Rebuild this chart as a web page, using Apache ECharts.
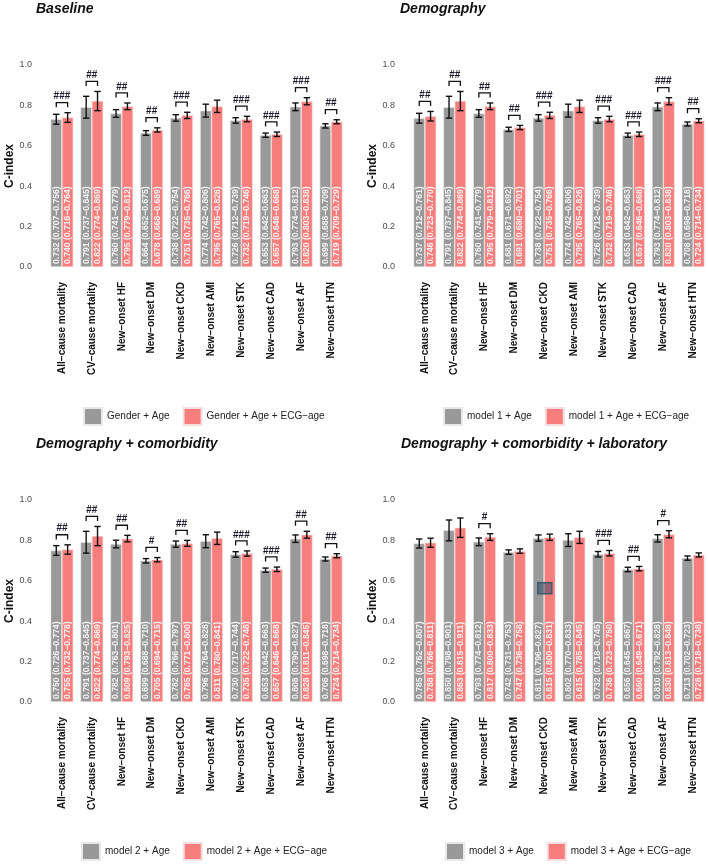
<!DOCTYPE html>
<html><head><meta charset="utf-8">
<script src="https://cdn.jsdelivr.net/npm/echarts@6/dist/echarts.min.js"></script>
<style>html,body{margin:0;padding:0;background:#fff}#c{width:708px;height:865px}</style>
</head><body><div id="c"></div>
<script>
const categories = ['All\u2212cause mortality','CV\u2212cause mortality','New\u2212onset HF','New\u2212onset DM','New\u2212onset CKD','New\u2212onset AMI','New\u2212onset STK','New\u2212onset CAD','New\u2212onset AF','New\u2212onset HTN'];
const yTicks = [0, 0.2, 0.4, 0.6, 0.8, 1.0];

// Panel 1 — Baseline
const p1Title = 'Baseline';
const p1Names = ['Gender + Age', 'Gender + Age + ECG\u2212age'];
const p1BaseVal = [0.732,0.791,0.760,0.664,0.738,0.774,0.726,0.653,0.793,0.699];
const p1BaseLo  = [0.707,0.737,0.741,0.652,0.722,0.742,0.712,0.642,0.774,0.688];
const p1BaseHi  = [0.756,0.845,0.779,0.675,0.754,0.806,0.739,0.663,0.812,0.709];
const p1EcgVal  = [0.740,0.822,0.795,0.678,0.751,0.795,0.732,0.657,0.820,0.719];
const p1EcgLo   = [0.716,0.774,0.779,0.668,0.735,0.765,0.719,0.646,0.803,0.709];
const p1EcgHi   = [0.764,0.869,0.812,0.689,0.766,0.826,0.746,0.668,0.838,0.729];
const p1Marks   = ['###','##','##','##','###','','###','###','###','##'];

// Panel 2 — Demography
const p2Title = 'Demography';
const p2Names = ['model 1 + Age', 'model 1 + Age + ECG\u2212age'];
const p2BaseVal = [0.737,0.791,0.760,0.681,0.738,0.774,0.726,0.653,0.793,0.708];
const p2BaseLo  = [0.712,0.737,0.741,0.671,0.722,0.742,0.712,0.642,0.774,0.698];
const p2BaseHi  = [0.761,0.845,0.779,0.692,0.754,0.806,0.739,0.663,0.812,0.718];
const p2EcgVal  = [0.746,0.822,0.795,0.691,0.751,0.795,0.732,0.657,0.820,0.724];
const p2EcgLo   = [0.723,0.774,0.779,0.680,0.735,0.765,0.719,0.646,0.803,0.714];
const p2EcgHi   = [0.770,0.869,0.812,0.701,0.766,0.826,0.746,0.668,0.838,0.734];
const p2Marks   = ['##','##','##','##','###','','###','###','###','##'];

// Panel 3 — Demography + comorbidity
const p3Title = 'Demography + comorbidity';
const p3Names = ['model 2 + Age', 'model 2 + Age + ECG\u2212age'];
const p3BaseVal = [0.750,0.791,0.782,0.699,0.782,0.796,0.730,0.653,0.808,0.708];
const p3BaseLo  = [0.726,0.737,0.763,0.688,0.766,0.764,0.717,0.642,0.790,0.698];
const p3BaseHi  = [0.774,0.845,0.801,0.710,0.797,0.828,0.744,0.663,0.827,0.718];
const p3EcgVal  = [0.755,0.822,0.809,0.705,0.785,0.811,0.735,0.657,0.828,0.724];
const p3EcgLo   = [0.732,0.774,0.793,0.694,0.771,0.780,0.722,0.646,0.811,0.714];
const p3EcgHi   = [0.778,0.869,0.825,0.715,0.800,0.841,0.748,0.668,0.845,0.734];
const p3Marks   = ['##','##','##','#','##','','###','###','##','##'];

// Panel 4 — Demography + comorbidity + laboratory
const p4Title = 'Demography + comorbidity + laboratory';
const p4Names = ['model 3 + Age', 'model 3 + Age + ECG\u2212age'];
const p4BaseVal = [0.785,0.850,0.793,0.742,0.811,0.802,0.732,0.656,0.810,0.713];
const p4BaseLo  = [0.762,0.798,0.774,0.731,0.796,0.770,0.718,0.645,0.792,0.702];
const p4BaseHi  = [0.807,0.901,0.812,0.753,0.827,0.833,0.745,0.667,0.828,0.723];
const p4EcgVal  = [0.788,0.863,0.817,0.747,0.815,0.815,0.736,0.660,0.830,0.728];
const p4EcgLo   = [0.766,0.815,0.800,0.736,0.800,0.785,0.723,0.649,0.813,0.718];
const p4EcgHi   = [0.811,0.911,0.833,0.758,0.831,0.845,0.750,0.671,0.848,0.738];
const p4Marks   = ['','','#','','','','###','##','#',''];

const panels = [
  {title:p1Title, names:p1Names, bv:p1BaseVal, bl:p1BaseLo, bh:p1BaseHi, ev:p1EcgVal, el:p1EcgLo, eh:p1EcgHi, marks:p1Marks},
  {title:p2Title, names:p2Names, bv:p2BaseVal, bl:p2BaseLo, bh:p2BaseHi, ev:p2EcgVal, el:p2EcgLo, eh:p2EcgHi, marks:p2Marks},
  {title:p3Title, names:p3Names, bv:p3BaseVal, bl:p3BaseLo, bh:p3BaseHi, ev:p3EcgVal, el:p3EcgLo, eh:p3EcgHi, marks:p3Marks},
  {title:p4Title, names:p4Names, bv:p4BaseVal, bl:p4BaseLo, bh:p4BaseHi, ev:p4EcgVal, el:p4EcgLo, eh:p4EcgHi, marks:p4Marks}
];

const GRAY = '#999999', SALMON = '#f87e7e';
const FONT = '"Liberation Sans", Arial, sans-serif';
const layout = [
  {left:47, top:65, titleLeft:36, titleTop:2, legLeft:83, legTop:407},
  {left:410, top:65, titleLeft:400, titleTop:2, legLeft:443, legTop:407},
  {left:47, top:500, titleLeft:36, titleTop:437, legLeft:81, legTop:842},
  {left:410, top:500, titleLeft:401, titleTop:437, legLeft:445, legTop:842}
];
const GW = 299, GH = 202;
const BAR_FRAC = 0.38;

function fmt(v){ return v.toFixed(3); }

function renderErr(params, api){
  const i = api.value(0), lo = api.value(1), hi = api.value(2), side = api.value(3);
  const band = api.size([1, 0])[0];
  const bw = band * BAR_FRAC;
  const pl = api.coord([i, lo]), ph = api.coord([i, hi]);
  const x = pl[0] + side * bw / 2;
  const cap = 3.2;
  const st = {stroke:'#111', lineWidth:1.4};
  return {type:'group', children:[
    {type:'line', shape:{x1:x, y1:pl[1], x2:x, y2:ph[1]}, style:st},
    {type:'line', shape:{x1:x-cap, y1:pl[1], x2:x+cap, y2:pl[1]}, style:st},
    {type:'line', shape:{x1:x-cap, y1:ph[1], x2:x+cap, y2:ph[1]}, style:st}
  ]};
}

function makeBracketRenderer(marks){
  return function(params, api){
    const i = api.value(0), top = api.value(1), tick = api.value(2);
    const band = api.size([1, 0])[0];
    const bw = band * BAR_FRAC;
    const pt = api.coord([i, top]), pk = api.coord([i, tick]);
    const xl = pt[0] - bw / 2, xr = pt[0] + bw / 2;
    const st = {stroke:'#111', lineWidth:1.3, fill:null};
    return {type:'group', children:[
      {type:'polyline', shape:{points:[[xl, pk[1]], [xl, pt[1]], [xr, pt[1]], [xr, pk[1]]]}, style:st},
      {type:'text', x:pt[0], y:pt[1] - 1, style:{text:marks[i], fill:'#1a1a2a', font:'bold 10px ' + FONT, align:'center', verticalAlign:'bottom'}}
    ]};
  };
}

const option = {
  animation:false,
  backgroundColor:'#fff',
  title:[], legend:[], grid:[], xAxis:[], yAxis:[], series:[],
  graphic:[{type:'rect', left:537, top:582, shape:{width:14, height:11}, style:{fill:'rgba(40,70,100,0.5)', stroke:'#3d5a70', lineWidth:1.5}, z:100}]
};

panels.forEach((p, k) => {
  const L = layout[k];
  option.title.push({text:p.title, left:L.titleLeft, top:L.titleTop, padding:0,
    textStyle:{fontSize:14, fontWeight:'bold', fontStyle:'italic', fontFamily:FONT, color:'#111'}});
  option.legend.push({data:p.names, left:L.legLeft, top:L.legTop, width:300, orient:'horizontal', icon:'rect',
    itemWidth:18, itemHeight:17, itemGap:13, padding:0, selectedMode:false,
    textStyle:{fontSize:10, fontFamily:FONT, color:'#222', padding:[0,0,0,0]}});
  option.grid.push({left:L.left, top:L.top, width:GW, height:GH, containLabel:false});
  option.xAxis.push({type:'category', gridIndex:k, data:categories,
    axisLine:{show:false}, axisTick:{show:false}, splitLine:{show:false},
    axisLabel:{rotate:90, fontSize:10, fontWeight:'bold', color:'#111', margin:15, fontFamily:FONT, interval:0}});
  option.yAxis.push({type:'value', gridIndex:k, min:yTicks[0], max:yTicks[yTicks.length-1], interval:0.2,
    name:'C-index', nameLocation:'middle', nameGap:30,
    nameTextStyle:{fontSize:12, fontWeight:'bold', color:'#111', fontFamily:FONT},
    axisLine:{show:false}, axisTick:{show:false}, splitLine:{show:false},
    axisLabel:{fontSize:9, color:'#4d4d4d', margin:15, fontFamily:FONT, formatter:v => v.toFixed(1)}});

  const mkLabel = (lo, hi) => ({show:true, position:'insideBottom', rotate:90, align:'left', verticalAlign:'middle',
    distance:3, color:'#f4f4f4', fontSize:8.6, fontWeight:'bold', fontFamily:FONT,
    formatter: prm => fmt(prm.value) + ' (' + fmt(lo[prm.dataIndex]) + '\u2212' + fmt(hi[prm.dataIndex]) + ')'});

  option.series.push({type:'bar', name:p.names[0], xAxisIndex:k, yAxisIndex:k, data:p.bv,
    barGap:'0%', barCategoryGap:'24%', itemStyle:{color:GRAY, borderColor:'#e8e8e8', borderWidth:0.6},
    label:mkLabel(p.bl, p.bh)});
  option.series.push({type:'bar', name:p.names[1], xAxisIndex:k, yAxisIndex:k, data:p.ev,
    barGap:'0%', barCategoryGap:'24%', itemStyle:{color:SALMON, borderColor:'#f4dede', borderWidth:0.6},
    label:mkLabel(p.el, p.eh)});

  const errData = [];
  categories.forEach((c, i) => {
    errData.push([i, p.bl[i], p.bh[i], -1]);
    errData.push([i, p.el[i], p.eh[i], 1]);
  });
  option.series.push({type:'custom', xAxisIndex:k, yAxisIndex:k, renderItem:renderErr, data:errData,
    encode:{x:0, y:[1,2]}, clip:false, z:5, silent:true});

  const brData = [];
  categories.forEach((c, i) => {
    if (p.marks[i]) {
      const m = Math.max(p.bh[i], p.eh[i]);
      brData.push([i, m + 0.05, m + 0.027]);
    }
  });
  option.series.push({type:'custom', xAxisIndex:k, yAxisIndex:k, renderItem:makeBracketRenderer(p.marks), data:brData,
    encode:{x:0, y:[1,2]}, clip:false, z:6, silent:true});
});

const chart = echarts.init(document.getElementById('c'), null, {renderer:'canvas'});
chart.setOption(option);
</script></body></html>
